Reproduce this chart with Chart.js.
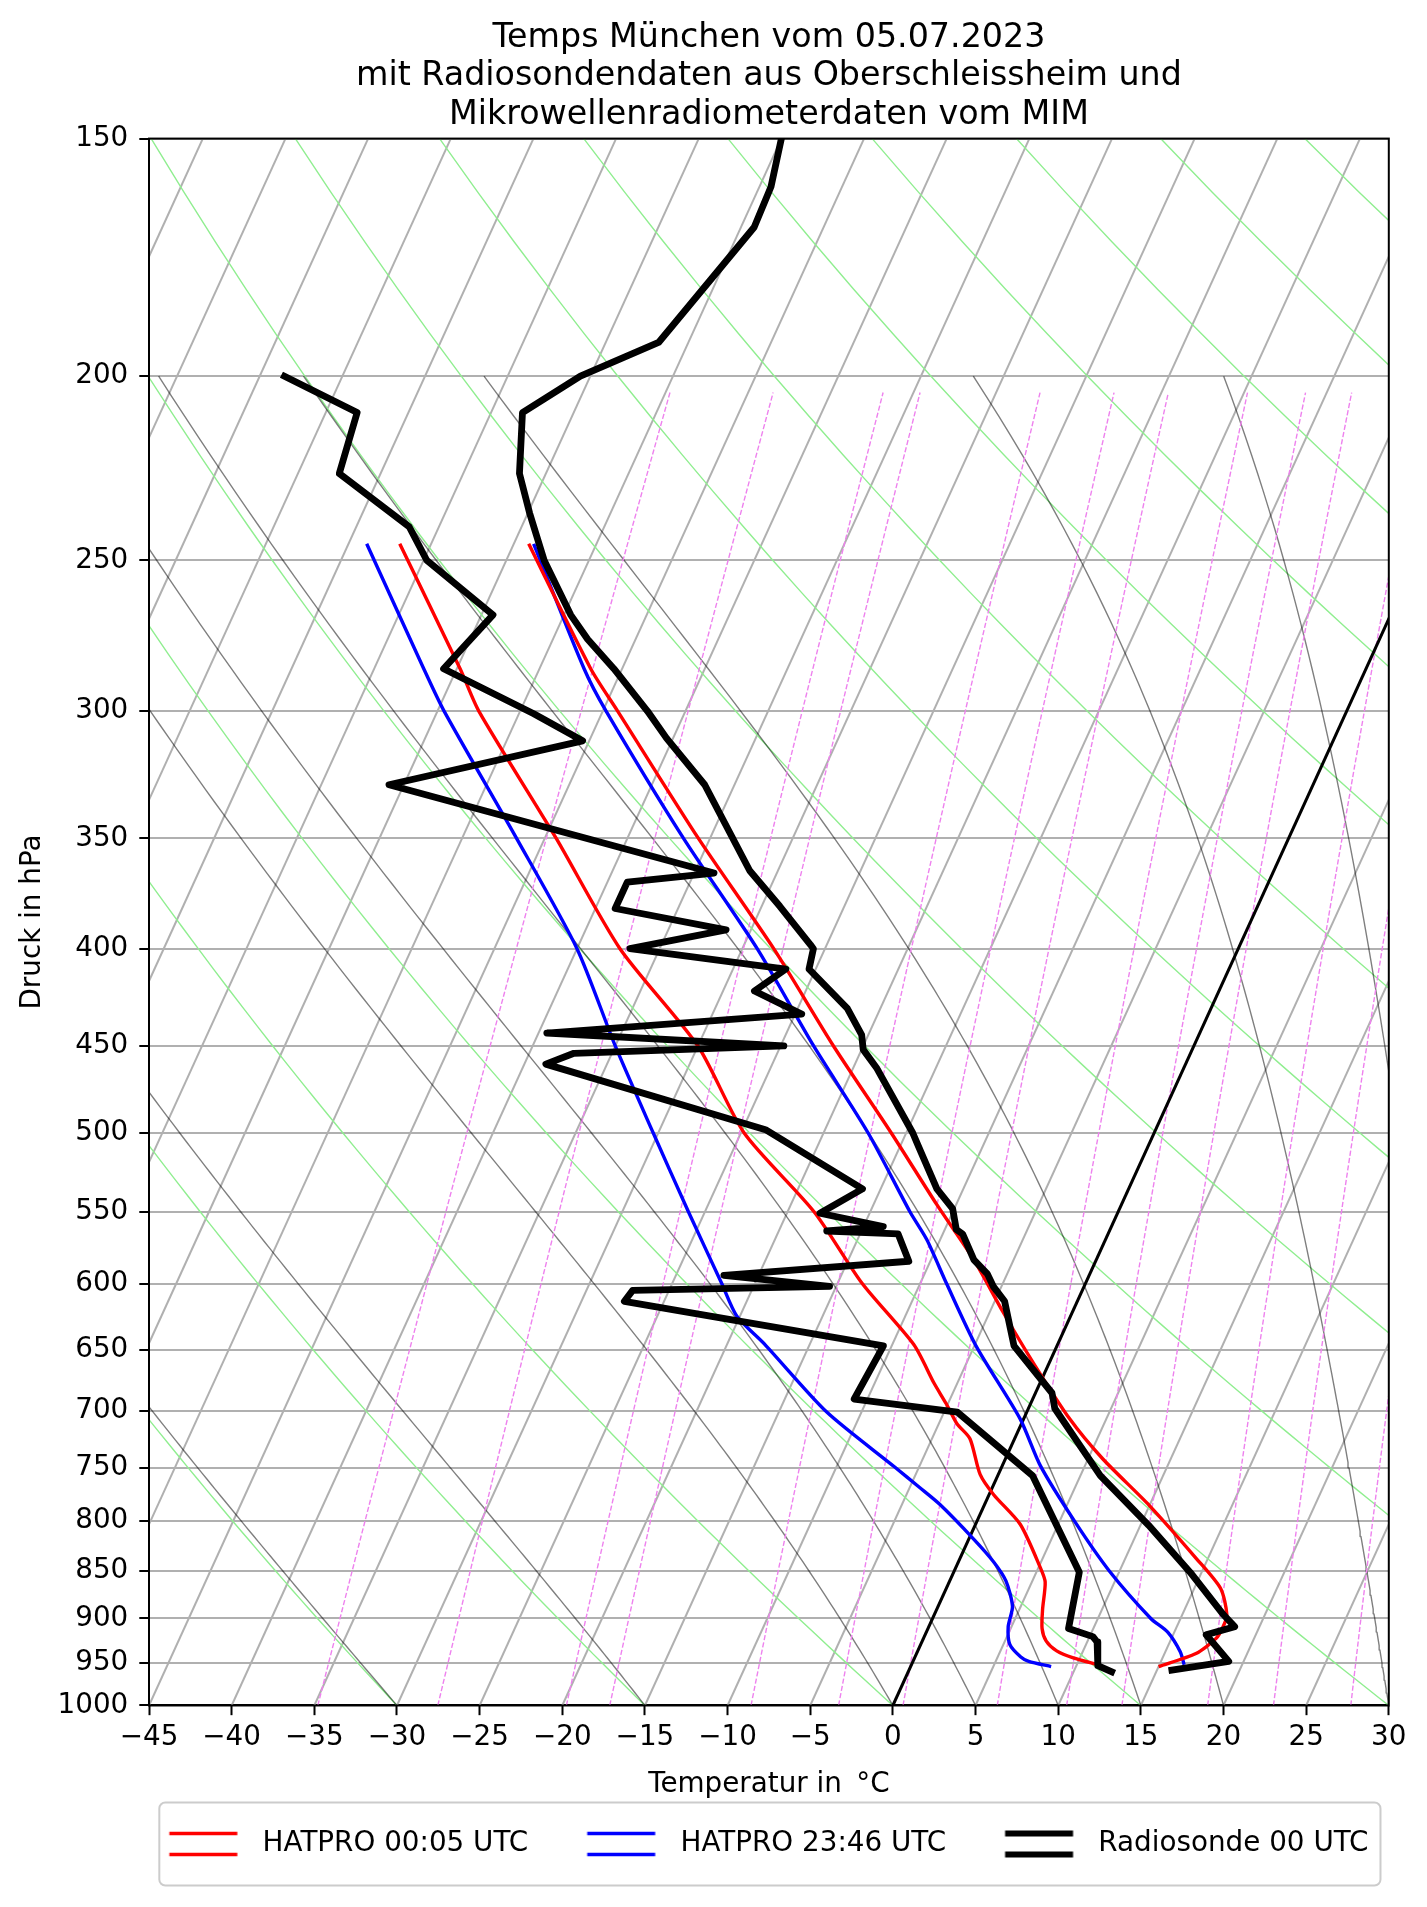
<!DOCTYPE html>
<html>
<head>
<meta charset="utf-8">
<script src="https://cdn.jsdelivr.net/npm/chart.js@4.4.0/dist/chart.umd.min.js"></script>
<style>
  html, body { margin: 0; padding: 0; background: #ffffff; }
  #wrap { width: 1427px; height: 1907px; }
</style>
</head>
<body>
<div id="wrap"><canvas id="skewT"></canvas></div>
<script>
// ---- chart text ----
const titleLines = [
    'Temps München vom 05.07.2023',
    'mit Radiosondendaten aus Oberschleissheim und',
    'Mikrowellenradiometerdaten vom MIM'
];
const legendNames = ['HATPRO 00:05 UTC', 'HATPRO 23:46 UTC', 'Radiosonde 00 UTC'];

// ---- axes ----
const pressureTicks = [150, 200, 250, 300, 350, 400, 450, 500, 550, 600, 650, 700, 750, 800, 850, 900, 950, 1000];
const temperatureTicks = [-45, -40, -35, -30, -25, -20, -15, -10, -5, 0, 5, 10, 15, 20, 25, 30];
const skewPerDecade = 52.5;   // degC shift per decade of pressure

// ---- background lines of the diagram ----
const isotherms = [-85, -80, -75, -70, -65, -60, -55, -50, -45, -40, -35, -30, -25, -20, -15, -10, -5, 0, 5, 10, 15, 20, 25, 30];
const dryAdiabats = [-30, -15, 0, 15, 30, 45, 60, 75, 90, 105, 120, 135, 150, 165];
const moistAdiabats = [-30, -15, 0, 5, 10, 15, 20, 30, 35];
const mixingRatios = [0.2, 0.4, 0.8, 1, 2, 3, 4, 6, 8, 10, 14, 18, 24];   // g/kg

// ---- Radiosonde 00 UTC ----
const sondeTempP = [150, 159, 167, 192, 200, 209, 225, 236, 250, 267, 275, 285, 300, 310, 328, 364, 380, 398, 400, 410,
    430, 444, 452, 462, 500, 508, 535, 548, 562, 565, 583, 593, 602, 613, 647, 685, 698, 757, 804, 851, 896, 909, 918, 948, 958];
const sondeTemp = [-50.0, -49.3, -49.2, -51.8, -55.6, -58.1, -56.6, -54.9, -52.7, -49.6, -47.9, -45.5, -42.3, -40.4, -36.8, -31.7, -28.9, -26.0, -25.7, -25.4,
    -22.0, -20.4, -19.9, -18.6, -14.6, -13.9, -11.6, -10.1, -9.3, -8.8, -7.4, -6.2, -5.5, -4.4, -2.6, 1.0, 1.6, 6.2, 10.5, 14.3, 17.5, 18.5, 17.0, 19.1, 15.9];
const sondeDewP = [200, 209, 225, 240, 250, 267, 285, 301, 311, 328, 365, 369, 381, 391, 400, 410, 421, 433, 443, 450,
    454, 460, 498, 535, 551, 560, 563, 565, 584, 594, 602, 605, 613, 647, 690, 701, 757, 851, 911, 920, 926, 953, 960];
const sondeDew = [-73.5, -68.1, -67.5, -61.8, -59.8, -54.3, -55.8, -49.1, -45.4, -55.9, -33.8, -38.8, -38.8, -31.5, -36.8, -26.8, -28.1, -24.6, -39.5, -24.8,
    -37.3, -38.7, -23.6, -16.1, -18.0, -13.8, -17.1, -12.7, -11.3, -22.1, -15.4, -27.2, -27.4, -10.5, -10.8, -4.2, 2.1, 7.6, 8.5, 10.2, 10.6, 11.3, 12.3];

// ---- HATPRO 00:05 UTC ----
const hatproEarlyTempP = [245, 285, 300, 350, 400, 450, 500, 545, 583, 621, 660, 707, 742, 785, 837, 868, 896, 909, 922, 939, 954];
const hatproEarlyTemp = [-54.1, -46.9, -44.1, -35.7, -28.1, -21.8, -15.9, -11.2, -7.4, -4.2, -1.0, 2.8, 5.9, 10.0, 14.3, 16.6, 17.7, 17.8, 17.7, 16.9, 15.0];
const hatproEarlyDewP = [245, 285, 300, 350, 400, 450, 500, 550, 600, 646, 677, 694, 711, 724, 756, 775, 803, 846, 861, 890, 911, 925, 936, 944, 952];
const hatproEarlyDew = [-61.9, -54.8, -52.5, -44.3, -37.4, -30.0, -24.8, -18.4, -13.5, -8.7, -6.4, -5.1, -3.9, -2.7, -1.1, 0.3, 2.7, 5.1, 5.8, 6.4, 6.9, 7.5, 8.4, 9.6, 11.3];

// ---- HATPRO 23:46 UTC ----
const hatproLateTempP = [245, 285, 300, 350, 400, 450, 500, 550, 569, 600, 647, 707, 748, 800, 850, 900, 915, 937, 952];
const hatproLateTemp = [-53.8, -47.3, -44.8, -36.6, -29.1, -23.0, -17.3, -12.6, -10.8, -8.4, -4.9, -0.2, 2.3, 5.9, 9.4, 13.2, 14.6, 15.9, 16.5];
const hatproLateDewP = [245, 285, 300, 350, 400, 450, 500, 550, 600, 624, 646, 701, 749, 768, 784, 817, 840, 860, 887, 909, 929, 943, 948, 954];
const hatproLateDew = [-63.9, -57.0, -54.6, -46.7, -40.0, -35.0, -30.3, -26.0, -22.0, -20.2, -17.7, -12.1, -6.5, -4.4, -2.7, 0.25, 2.1, 3.4, 4.5, 4.8, 5.4, 6.4, 7.0, 8.5];

// ---- styling ----
const fontFamily = "'DejaVu Sans', sans-serif";
const tickFont = 27.8;
const legendColors = ['#ff0000', '#0000ff', '#000000'];
const legendLineWidths = [3.6, 3.6, 5.8];
const handleGap = 30.6;

Chart.defaults.font.family = fontFamily;
Chart.defaults.color = '#000000';

function skewX(t, p) {
    return t + skewPerDecade * Math.log10(1000 / p);
}

function toPoints(ps, ts) {
    return ps.map((p, i) => ({x: skewX(ts[i], p), y: p}));
}

function isothermLine(t) {
    return [{x: skewX(t, 1000), y: 1000}, {x: skewX(t, 150), y: 150}];
}

function dryAdiabatLine(theta) {
    const pts = [];
    for (let p = 1000; p >= 150; p -= 10) {
        const t = (theta + 273.15) * Math.pow(p / 1000, 0.28571) - 273.15;
        pts.push({x: skewX(t, p), y: p});
    }
    return pts;
}

// moist lapse rate as used by MetPy
function moistSlope(p, tK) {
    const Rd = 287.04749, Cp = 1004.6662, Lv = 2.50084e6, eps = 0.6219569;
    const es = 6.112 * Math.exp(17.67 * (tK - 273.15) / (tK - 29.65));
    const rs = eps * es / (p - es);
    return ((Rd * tK + Lv * rs) / (Cp + (Lv * Lv * rs * eps) / (Rd * tK * tK))) / p;
}

function moistAdiabatLine(t0) {
    let t = t0 + 273.15;
    let p = 1000;
    const h = -5;
    const pts = [{x: skewX(t0, 1000), y: 1000}];
    while (p > 200.001) {
        const k1 = moistSlope(p, t);
        const k2 = moistSlope(p + h / 2, t + h / 2 * k1);
        const k3 = moistSlope(p + h / 2, t + h / 2 * k2);
        const k4 = moistSlope(p + h, t + h * k3);
        t += h / 6 * (k1 + 2 * k2 + 2 * k3 + k4);
        p += h;
        pts.push({x: skewX(t - 273.15, p), y: p});
    }
    return pts;
}

function mixingLine(wGkg) {
    const w = wGkg / 1000;
    const pts = [];
    const levels = [];
    for (let p = 1000; p > 204; p -= 20) levels.push(p);
    levels.push(204);
    levels.forEach(p => {
        const e = p * w / (0.6219569 + w);
        const l = Math.log(e / 6.112);
        const td = 243.5 * l / (17.67 - l);
        pts.push({x: skewX(td, p), y: p});
    });
    return pts;
}

function lineSet(data, color, width, order, extra) {
    return Object.assign({
        data,
        showLine: true,
        borderColor: color,
        backgroundColor: color,
        borderWidth: width,
        pointRadius: 0,
        fill: false,
        tension: 0,
        clip: 0,
        order,
        borderJoinStyle: 'round'
    }, extra || {});
}

function handleImage(color, width) {
    const c = document.createElement('canvas');
    c.width = 110;
    c.height = 32;
    const g = c.getContext('2d');
    g.strokeStyle = color;
    g.lineWidth = width;
    [5.5, 26.5].forEach(y => {
        g.beginPath();
        g.moveTo(handleGap, y);
        g.lineTo(handleGap + 68, y);
        g.stroke();
    });
    return c;
}
const legendHandles = legendColors.map((c, i) => handleImage(c, legendLineWidths[i]));

// ---- datasets ----
const datasets = [];
datasets.push(lineSet(toPoints(sondeTempP, sondeTemp), '#000000', 6.8, 0, {borderCapStyle: 'square'}));
datasets.push(lineSet(toPoints(sondeDewP, sondeDew), '#000000', 6.8, 0, {borderCapStyle: 'square'}));
datasets.push(lineSet(toPoints(hatproEarlyTempP, hatproEarlyTemp), '#ff0000', 3.4, 1, {tension: 0.25}));
datasets.push(lineSet(toPoints(hatproEarlyDewP, hatproEarlyDew), '#ff0000', 3.4, 1, {tension: 0.25}));
datasets.push(lineSet(toPoints(hatproLateTempP, hatproLateTemp), '#0000ff', 3.4, 1, {tension: 0.25}));
datasets.push(lineSet(toPoints(hatproLateDewP, hatproLateDew), '#0000ff', 3.4, 1, {tension: 0.25}));
datasets.push(lineSet(isothermLine(0), '#000000', 3, 3));
mixingRatios.forEach(w => datasets.push(lineSet(mixingLine(w), 'violet', 1.4, 4, {borderDash: [5.2, 2.2]})));
moistAdiabats.forEach(t => datasets.push(lineSet(moistAdiabatLine(t), 'rgba(0,0,0,0.5)', 1.4, 5)));
dryAdiabats.forEach(t => datasets.push(lineSet(dryAdiabatLine(t), '#90ee90', 1.4, 6)));
isotherms.forEach(t => datasets.push(lineSet(isothermLine(t), '#b0b0b0', 2, 7)));

// frame of the axes, legend box and legend centring
const framePlugin = {
    id: 'skewFrame',
    afterLayout(chart) {
        const lg = chart.legend;
        if (!lg || !lg.lineWidths) return;
        const target = (chart.chartArea.left + chart.chartArea.right) / 2;
        const current = (lg.left + lg.right) / 2 + handleGap / 2;
        const shift = target - current;
        lg.left += shift;
        lg.right += shift;
    },
    beforeDraw(chart) {
        const lg = chart.legend;
        if (!lg || !lg.legendHitBoxes || !lg.legendHitBoxes.length) return;
        const hb = lg.legendHitBoxes;
        const first = hb[0], last = hb[hb.length - 1];
        const cy = first.top + tickFont / 2;
        const x0 = first.left + handleGap - 10;
        const x1 = last.left + last.width + 12;
        const y0 = cy - 41.5, y1 = cy + 41.5;
        const r = 6;
        const c = chart.ctx;
        c.save();
        c.beginPath();
        c.moveTo(x0 + r, y0);
        c.arcTo(x1, y0, x1, y1, r);
        c.arcTo(x1, y1, x0, y1, r);
        c.arcTo(x0, y1, x0, y0, r);
        c.arcTo(x0, y0, x1, y0, r);
        c.closePath();
        c.fillStyle = 'rgba(255,255,255,0.8)';
        c.fill();
        c.strokeStyle = '#cccccc';
        c.lineWidth = 2;
        c.stroke();
        c.restore();
    },
    afterDatasetsDraw(chart) {
        const a = chart.chartArea;
        const c = chart.ctx;
        c.save();
        c.strokeStyle = '#000000';
        c.lineWidth = 2;
        c.strokeRect(a.left, a.top, a.right - a.left, a.bottom - a.top);
        c.restore();
    }
};

const fmtTemp = v => (v < 0 ? '\u2212' + Math.abs(v) : String(v));

new Chart(document.getElementById('skewT').getContext('2d'), {
    type: 'scatter',
    data: {datasets},
    plugins: [framePlugin],
    options: {
        responsive: true,
        maintainAspectRatio: false,
        devicePixelRatio: 1,
        animation: false,
        events: [],
        layout: {padding: {left: 0, right: 38.2, top: 0, bottom: 39.1}},
        elements: {point: {radius: 0}},
        plugins: {
            tooltip: {enabled: false},
            title: {
                display: true,
                text: titleLines,
                color: '#000000',
                fullSize: false,
                font: {size: 33.3, weight: 'normal', family: fontFamily, lineHeight: 1.16},
                padding: {top: 18.7, bottom: 4}
            },
            legend: {
                display: true,
                position: 'bottom',
                align: 'center',
                fullSize: true,
                labels: {
                    usePointStyle: true,
                    pointStyleWidth: 110,
                    padding: 28.4,
                    color: '#000000',
                    font: {size: tickFont, family: fontFamily},
                    generateLabels: () => legendNames.map((name, i) => ({
                        text: name,
                        fillStyle: legendColors[i],
                        strokeStyle: legendColors[i],
                        lineWidth: 0,
                        pointStyle: legendHandles[i],
                        hidden: false,
                        datasetIndex: i
                    }))
                }
            }
        },
        scales: {
            x: {
                type: 'linear',
                min: -45,
                max: 30,
                afterBuildTicks: scale => { scale.ticks = temperatureTicks.map(v => ({value: v})); },
                ticks: {
                    autoSkip: false,
                    maxRotation: 0,
                    padding: 5.6,
                    color: '#000000',
                    font: {size: tickFont, family: fontFamily},
                    callback: v => fmtTemp(v)
                },
                grid: {drawOnChartArea: false, drawTicks: true, tickLength: 9.7, tickColor: '#000000', tickWidth: 2},
                border: {display: true, color: '#000000', width: 2},
                title: {
                    display: true,
                    text: 'Temperatur in \u2009\u00B0C',
                    color: '#000000',
                    font: {size: tickFont, family: fontFamily},
                    padding: {top: 8.6, bottom: 0}
                }
            },
            y: {
                type: 'logarithmic',
                min: 150,
                max: 1000,
                reverse: true,
                afterBuildTicks: scale => { scale.ticks = pressureTicks.map(v => ({value: v})); },
                afterFit: scale => { scale.width = 149; },
                ticks: {
                    autoSkip: false,
                    padding: 11,
                    color: '#000000',
                    font: {size: tickFont, family: fontFamily},
                    callback: v => String(v)
                },
                grid: {color: '#b0b0b0', lineWidth: 2, drawTicks: true, tickLength: 9.7, tickColor: '#000000', tickWidth: 2},
                border: {display: true, color: '#000000', width: 2},
                title: {
                    display: true,
                    text: 'Druck in hPa',
                    color: '#000000',
                    font: {size: tickFont, family: fontFamily},
                    padding: {top: 16.3, bottom: 0}
                }
            }
        }
    }
});
</script>
</body>
</html>
